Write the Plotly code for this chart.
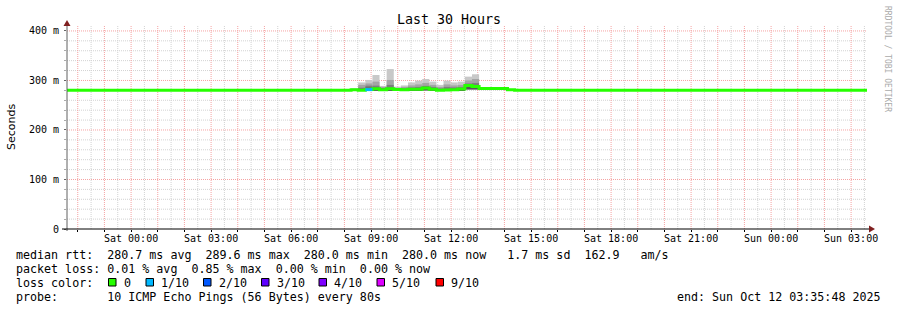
import plotly.graph_objects as go
import pandas as pd

# ---------------- data ----------------
start_time = "2025-10-10 21:35:48"
end_time = "2025-10-12 03:35:48"
baseline_ms = 280.0

# 16-minute consolidated bins with visible smoke (Sat Oct 11)
bin_start = ["2025-10-11 08:15", "2025-10-11 08:31", "2025-10-11 08:47", "2025-10-11 09:03",
             "2025-10-11 09:19", "2025-10-11 09:35", "2025-10-11 09:51", "2025-10-11 10:07",
             "2025-10-11 10:23", "2025-10-11 10:39", "2025-10-11 10:55", "2025-10-11 11:11",
             "2025-10-11 11:27", "2025-10-11 11:43", "2025-10-11 11:59", "2025-10-11 12:15",
             "2025-10-11 12:31", "2025-10-11 12:47", "2025-10-11 13:03", "2025-10-11 13:19",
             "2025-10-11 13:35", "2025-10-11 13:51", "2025-10-11 14:07"]
median_ms = [281.0, 280.0, 281.5, 283.0, 281.0, 283.0, 281.5, 281.0, 282.0, 282.0, 285.0, 282.0,
             280.0, 280.5, 281.0, 282.5, 289.6, 288.0, 284.0, 284.0, 284.0, 284.0, 281.0]
p_min_ms = [280.0, 280.0, 280.0, 279.0, 280.0, 280.0, 280.0, 280.0, 280.0, 280.0, 280.0, 280.0,
            280.0, 280.0, 280.0, 280.0, 282.0, 282.0, 284.0, 284.0, 284.0, 282.0, 280.0]
p_7_ms = [281.5, 283.0, 285.5, 285.4, 283.0, 284.0, 282.5, 282.5, 284.0, 284.0, 287.0, 284.0,
          282.0, 283.0, 283.0, 284.0, 291.0, 291.0, 284.0, 284.0, 284.0, 284.0, 281.0]
p_8_ms = [282.0, 285.4, 289.5, 289.5, 285.0, 291.0, 283.5, 284.0, 286.0, 287.0, 289.0, 287.0,
          284.0, 287.0, 286.0, 287.0, 294.0, 295.0, 284.0, 284.0, 284.0, 284.0, 281.0]
p_9_ms = [283.0, 291.0, 294.0, 297.6, 287.0, 301.0, 285.0, 287.0, 290.0, 292.0, 295.0, 291.0,
          287.0, 292.0, 290.0, 291.0, 300.0, 303.0, 284.0, 284.0, 284.0, 284.0, 281.5]
p_max_ms = [284.0, 296.0, 301.0, 311.0, 289.0, 323.0, 287.5, 290.0, 296.0, 299.6, 303.0, 297.6,
            291.0, 299.6, 296.0, 297.6, 307.7, 312.5, 284.0, 284.0, 284.0, 284.0, 282.0]
loss_tenths = [0, 0, 1, 0, 0, 0, 0, 0, 0, 0, 0, 0, 0, 0, 0, 0, 0, 0, 0, 0, 0, 0, 0]

# isolated faint smoke bins on the flat baseline
quiet_start = ["2025-10-11 02:23", "2025-10-11 23:47"]
quiet_max_ms = [282.5, 282.5]

tick_times = ["2025-10-11 00:00", "2025-10-11 03:00", "2025-10-11 06:00", "2025-10-11 09:00",
              "2025-10-11 12:00", "2025-10-11 15:00", "2025-10-11 18:00", "2025-10-11 21:00",
              "2025-10-12 00:00", "2025-10-12 03:00"]
tick_labels = ["Sat 00:00", "Sat 03:00", "Sat 06:00", "Sat 09:00", "Sat 12:00", "Sat 15:00",
               "Sat 18:00", "Sat 21:00", "Sun 00:00", "Sun 03:00"]
y_tick_vals = [0, 0.1, 0.2, 0.3, 0.4]
y_tick_text = ["0", "100 m", "200 m", "300 m", "400 m"]

loss_labels = ["0", "1/10", "2/10", "3/10", "4/10", "5/10", "9/10"]
loss_colors = ["#26ff00", "#00b8ff", "#0059ff", "#5e00ff", "#7e00ff", "#dd00ff", "#ff0000"]

stats_line1 = "median rtt:  280.7 ms avg  289.6 ms max  280.0 ms min  280.0 ms now   1.7 ms sd  162.9   am/s"
stats_line2 = "packet loss: 0.01 % avg  0.85 % max  0.00 % min  0.00 % now"
probe_line = "probe:       10 ICMP Echo Pings (56 Bytes) every 80s"
end_line = "end: Sun Oct 12 03:35:48 2025"
title_text = "Last 30 Hours"

# ---------------- geometry helpers ----------------
W, H = 897, 310
L, R, T, B = 67, 30, 25, 81
PW, PH = W - L - R, H - T - B
MONO = "DejaVu Sans Mono"


def px(xp):
    return (xp - L) / PW


def py(yp):
    return (H - B - yp) / PH


BIN_MS = 960_000
half = pd.Timedelta(milliseconds=BIN_MS / 2)

fig = go.Figure()

# ---------------- smoke ----------------
all_start = bin_start + quiet_start
all_min = p_min_ms + [baseline_ms] * len(quiet_start)
all_p7 = p_7_ms + [baseline_ms] * len(quiet_start)
all_p8 = p_8_ms + [baseline_ms] * len(quiet_start)
all_p9 = p_9_ms + [baseline_ms] * len(quiet_start)
all_max = p_max_ms + quiet_max_ms
centers = [pd.Timestamp(s) + half for s in all_start]

for hi, col in [(all_max, "#c8c8c8"), (all_p9, "#a4a4a4"), (all_p8, "#7e7e7e"), (all_p7, "#585858")]:
    fig.add_trace(go.Bar(
        x=centers, base=[v / 1000 for v in all_min],
        y=[(h - l) / 1000 for h, l in zip(hi, all_min)],
        width=[BIN_MS] * len(centers),
        marker=dict(color=col, line=dict(width=0)),
        hoverinfo="skip", showlegend=False))

# ---------------- median line ----------------
mx = [pd.Timestamp(start_time)] + [pd.Timestamp(s) for s in bin_start] + \
     [pd.Timestamp(bin_start[-1]) + 2 * half, pd.Timestamp(end_time)]
my = [baseline_ms] + median_ms + [baseline_ms, baseline_ms]
fig.add_trace(go.Scatter(x=mx, y=[v / 1000 for v in my], mode="lines",
                         line=dict(color=loss_colors[0], width=3, shape="hv"),
                         hoverinfo="skip", showlegend=False))
for s, m, lt in zip(bin_start, median_ms, loss_tenths):
    if lt > 0:
        t0 = pd.Timestamp(s)
        fig.add_trace(go.Scatter(x=[t0, t0 + 2 * half], y=[m / 1000, m / 1000], mode="lines",
                                 line=dict(color=loss_colors[min(lt, len(loss_colors) - 1)], width=3),
                                 hoverinfo="skip", showlegend=False))

# ---------------- axes ----------------
hour_grid = list(pd.date_range("2025-10-10 22:00", "2025-10-12 03:00", freq="h"))
lab = {pd.Timestamp(t): l for t, l in zip(tick_times, tick_labels)}
hour_text = [lab.get(t, "") for t in hour_grid]
half_grid = list(pd.date_range("2025-10-10 21:30", "2025-10-12 03:30", freq="h"))
y_minor = [i * 0.02 for i in range(21) if i % 5 != 0]

RED = "#f5a2a2"
GRAY = "#d2d2d2"
DASH = "1px,1px"

fig.update_xaxes(type="date", range=[start_time, end_time], tickmode="array",
                 tickvals=hour_grid, ticktext=hour_text, showgrid=False,
                 ticks="outside", ticklen=2, tickcolor="black",
                 showline=False, zeroline=False, ticklabelstandoff=-2,
                 tickfont=dict(family=MONO, size=10, color="#000000"))
fig.update_yaxes(range=[0, 0.412], tickmode="array", tickvals=y_tick_vals, ticktext=y_tick_text,
                 showgrid=False, ticks="outside", ticklen=2,
                 tickcolor="#666", showline=False, zeroline=False, ticklabelstandoff=3,
                 tickfont=dict(family=MONO, size=10, color="#000000"),
                 minor=dict(tickmode="array", tickvals=y_minor, showgrid=False, ticks="outside",
                            ticklen=2, tickcolor="#aaa"))

shapes = []
# grid lines (drawn beneath the data)
for t in half_grid:
    shapes.append(dict(type="line", xref="x", yref="paper", x0=t, x1=t, y0=0, y1=1, layer="below",
                       line=dict(color=GRAY, width=1, dash=DASH)))
for yv in y_minor:
    shapes.append(dict(type="line", xref="paper", yref="y", x0=0, x1=1, y0=yv, y1=yv, layer="below",
                       line=dict(color=GRAY, width=1, dash=DASH)))
for t in hour_grid:
    shapes.append(dict(type="line", xref="x", yref="paper", x0=t, x1=t, y0=0, y1=1, layer="below",
                       line=dict(color=RED, width=1, dash=DASH)))
for yv in y_tick_vals[1:]:
    shapes.append(dict(type="line", xref="paper", yref="y", x0=0, x1=1, y0=yv, y1=yv, layer="below",
                       line=dict(color=RED, width=1, dash=DASH)))

# y axis line + arrow
shapes.append(dict(type="line", xref="paper", yref="paper", x0=0, x1=0, y0=py(231), y1=py(24),
                   line=dict(color="#606060", width=1)))
shapes.append(dict(type="path", xref="paper", yref="paper",
                   path=f"M {px(63.5)} {py(26)} L {px(70.5)} {py(26)} L {px(67)} {py(20)} Z",
                   fillcolor="#7f1f1f", line=dict(width=0)))
# x axis line + arrow
shapes.append(dict(type="line", xref="paper", yref="paper", x0=px(62), x1=px(870), y0=0, y1=0,
                   line=dict(color="black", width=1)))
shapes.append(dict(type="path", xref="paper", yref="paper",
                   path=f"M {px(869)} {py(225.5)} L {px(869)} {py(232.5)} L {px(875)} {py(229)} Z",
                   fillcolor="#7f1f1f", line=dict(width=0)))

annotations = []
FS = 11.66


def text(x, y, s, size=FS, anchor="left", **kw):
    annotations.append(dict(xref="paper", yref="paper", x=px(x), y=py(y), text=s, showarrow=False,
                            xanchor=anchor, yanchor="middle",
                            font=dict(family=kw.pop("family", MONO), size=size,
                                      color=kw.pop("color", "black")), **kw))


ROWS = [254.5, 268.5, 282.5, 296.5]
text(448.5, 19, title_text, size=13.3, anchor="center")
text(14, ROWS[0], stats_line1.replace(" ", "&nbsp;"))
text(14, ROWS[1], stats_line2.replace(" ", "&nbsp;"))
text(14, ROWS[2], "loss&nbsp;color:")
text(14, ROWS[3], probe_line.replace(" ", "&nbsp;"))
text(883, ROWS[3], end_line.replace(" ", "&nbsp;"), anchor="right")
text(11, 127, "Seconds", size=11, anchor="center", family="DejaVu Sans", textangle=-90)
text(887, 59, "RRDTOOL&nbsp;/&nbsp;TOBI&nbsp;OETIKER", size=8, anchor="center", color="#aaaaaa",
     textangle=90)

box_x = [108.5, 146, 203.5, 261.5, 319, 377, 436]
for bx, lb, c in zip(box_x, loss_labels, loss_colors):
    shapes.append(dict(type="rect", xref="paper", yref="paper", x0=px(bx), x1=px(bx + 7.5),
                       y0=py(ROWS[2] + 3.5), y1=py(ROWS[2] - 4), fillcolor=c,
                       line=dict(color="black", width=1)))
    text(bx + 13, ROWS[2], lb)

fig.update_layout(width=W, height=H, margin=dict(l=L, r=R, t=T, b=B), paper_bgcolor="white",
                  plot_bgcolor="white", barmode="overlay", showlegend=False, shapes=shapes,
                  annotations=annotations, font=dict(family=MONO, size=10, color="black"))

fig.write_html("out.html")
